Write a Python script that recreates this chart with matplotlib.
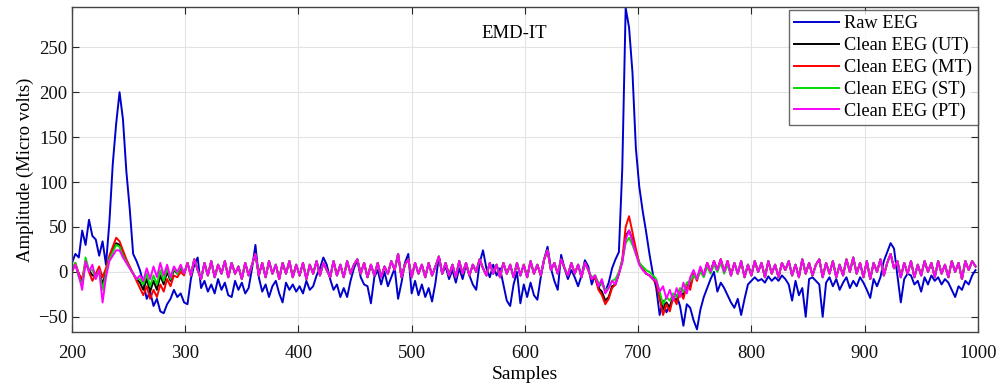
import numpy as np
import matplotlib
matplotlib.use("Agg")
import matplotlib.pyplot as plt

plt.rcParams['font.family'] = ['Liberation Serif', 'DejaVu Serif']

# ---------------- data (every 3 samples, 200..998) ----------------
start_sample = 200
step = 3

raw_eeg = [
    10, 20, 16, 46, 30, 58, 40, 36, 18, 34,              # 200-227
    8, 55, 120, 165, 200, 170, 112, 70, 20, 12,          # 230-257
    2, -12, -30, -22, -38, -30, -44, -46, -36, -30,      # 260-287
    -20, -28, -24, -34, -36, -8, 8, 16, -18, -10,        # 290-317
    -22, -14, -24, -8, -20, -12, -26, -28, -10, -20,     # 320-347
    -12, -24, -18, 4, 30, -6, -22, -14, -28, -16,        # 350-377
    -10, -24, -34, -12, -20, -14, -22, -16, -24, -10,    # 380-407
    -20, -16, -4, 4, 16, 8, -8, -20, -14, -28,           # 410-437
    -18, -28, -10, 4, 13, -6, -14, -16, -35, -6,         # 440-467
    2, -14, 0, -16, -6, 4, -30, -12, 10, 20,             # 470-497
    -24, -10, -26, -14, -28, -18, -33, -12, 17, -2,      # 500-527
    6, -8, 2, -12, 4, -8, 8, -4, -14, -20,               # 530-557
    10, 24, 4, -6, 8, -4, 4, -14, -32, -38,              # 560-587
    -14, 0, -35, -14, -28, -12, -26, -31, -6, 14,        # 590-617
    28, 4, -10, -20, 19, 4, -8, 2, -6, -16,              # 620-647
    -4, 13, 6, -14, -4, -18, -10, -22, -12, 4,           # 650-677
    14, 22, 115, 294, 272, 222, 138, 95, 68, 45,         # 680-707
    20, -2, -18, -48, -32, -45, -38, -28, -26, -38,      # 710-737
    -60, -36, -40, -54, -64, -42, -28, -18, -8, 0,       # 740-767
    -22, -12, -18, -26, -34, -40, -30, -48, -30, -14,    # 770-797
    -10, -6, -10, -8, -12, -5, -10, -6, -10, -4,         # 800-827
    -8, -14, -32, -10, -26, -18, -50, -8, -6, -10,       # 830-857
    -14, -50, -12, -6, -16, -8, -20, -12, -6, -18,       # 860-887
    -10, -16, -6, -12, -20, -29, -8, -16, -6, 12,        # 890-917
    22, 32, 26, -4, -34, -8, -2, -4, -14, -10,           # 920-947
    -22, -6, -14, -4, -10, -6, -14, -8, -12, -20,        # 950-977
    -28, -16, -20, -10, -14, -4, 2,                      # 980-998
]

clean_pt = [
    0, 8, -4, -20, 12, 0, 8, -8, 2, -34,                 # 200-227
    -6, 12, 18, 24, 24, 16, 10, 4, -2, -8,               # 230-257
    -4, -10, 4, -8, 6, -6, 10, -4, 8, -6,                # 260-287
    6, 0, 8, -2, 10, -4, 14, 2, -8, 10,                  # 290-317
    -4, 12, -6, 8, -2, 12, -6, 10, -2, 6,                # 320-347
    -8, 10, -4, 8, 20, -4, 10, -6, 12, -2,               # 350-377
    8, -8, 10, -2, 12, -6, 8, -4, 10, -8,                # 380-407
    8, -2, 12, -4, 10, 2, -6, 12, -4, 8,                 # 410-437
    -6, 12, -2, 8, 14, -2, 10, -6, 8, -4,                # 440-467
    10, -6, 6, -2, 12, 2, 20, -6, 8, 14,                 # 470-497
    -6, 10, -2, 8, -6, 10, -4, 6, 17, -2,                # 500-527
    10, -4, 8, -6, 12, -2, 10, -4, 8, 0,                 # 530-557
    14, 4, -4, 10, -2, 8, -6, 10, -2, 8,                 # 560-587
    -6, 10, -4, 8, -6, 12, -2, 8, -4, 14,                # 590-617
    24, 2, 10, -2, 14, 4, -4, 10, -2, 8,                 # 620-647
    -6, 10, 2, -8, -4, -16, -8, -24, -18, -10,           # 650-677
    -14, -2, 10, 36, 46, 34, 20, 8, 2, -2,               # 680-707
    -4, -8, -10, -22, -16, -30, -20, -32, -18, -28,      # 710-737
    -12, -24, -6, 2, -8, 6, -4, 10, 0, 12,               # 740-767
    2, 14, 0, 12, -4, 10, -2, 12, -6, 8,                 # 770-797
    -4, 12, 0, 10, -6, 12, -2, 8, -6, 10,                # 800-827
    2, 12, -4, 8, -6, 14, -2, 10, -4, 8,                 # 830-857
    14, -6, 10, -2, 12, -6, 8, -4, 14, 0,                # 860-887
    16, -2, 10, -6, 12, -8, 10, 0, 14, -4,               # 890-917
    10, 20, 4, 12, -6, 10, -2, 12, -6, 8,                # 920-947
    -4, 12, 0, 10, -6, 12, -2, 8, -6, 12,                # 950-977
    0, 10, -8, 12, 2, 12, 6,                             # 980-998
]

# segments where the other clean signals differ from PT
seg_a_start = 200   # samples 200..299
seg_b_start = 659   # samples 659..779

ut_seg_a = [2, 8, -4, -12, 10, 2, -4, -4, 2, -14,
            0, 14, 24, 32, 30, 20, 12, 5, -2, -8,
            -12, -20, -8, -22, -10, -20, -4, -14, 0, -10,
            2, -2, 4, -2]
mt_seg_a = [2, 10, -2, -8, 12, 0, -10, -2, 6, -6,
            4, 18, 28, 38, 34, 24, 14, 6, -2, -10,
            -18, -26, -16, -30, -20, -28, -14, -22, -8, -16,
            -4, -6, 0, -4]
st_seg_a = [2, 10, -6, -14, 16, 2, 2, -6, 2, -20,
            -2, 14, 22, 30, 28, 18, 11, 4, -2, -8,
            -8, -14, -2, -16, -4, -14, 2, -10, 4, -8,
            4, -2, 6, -2]

ut_seg_b = [-8, -6, -18, -22, -32, -28, -16, -14, -2, 12,
            40, 46, 36, 22, 10, 4, -2, -4, -8, -12,
            -28, -42, -34, -40, -28, -32, -22, -26, -14, -16,
            -2, -8, 4, -4, 10, 0, 12, 2, 14, 0, 12]
mt_seg_b = [-8, -6, -20, -26, -36, -30, -18, -14, -2, 14,
            50, 62, 44, 26, 10, 4, -2, -4, -8, -12,
            -30, -48, -36, -44, -28, -36, -22, -30, -14, -20,
            -2, -10, 4, -4, 10, 0, 12, 2, 14, 0, 12]
st_seg_b = [-6, -4, -12, -14, -20, -18, -10, -8, 0, 12,
            32, 38, 30, 20, 10, 6, 2, 0, -4, -8,
            -22, -36, -28, -32, -24, -28, -18, -22, -12, -10,
            -4, -8, 0, -6, 6, -2, 8, 0, 10, -2, 8]

series_labels = ['Raw EEG', 'Clean EEG (UT)', 'Clean EEG (MT)',
                 'Clean EEG (ST)', 'Clean EEG (PT)']
series_colors = ['#0000CC', '#000000', '#FF0000', '#00DD00', '#FF00FF']

x_ticks = [200, 300, 400, 500, 600, 700, 800, 900, 1000]
y_ticks = [-50, 0, 50, 100, 150, 200, 250]

# ---------------- build series ----------------
assert len(raw_eeg) == 267, len(raw_eeg)
assert len(clean_pt) == 267, len(clean_pt)
samples = start_sample + step * np.arange(len(raw_eeg))


def with_segments(base, segs):
    out = np.array(base, dtype=float)
    for seg_start, seg in segs:
        i0 = (seg_start - start_sample) // step
        out[i0:i0 + len(seg)] = seg
    return out


clean_ut = with_segments(clean_pt, [(seg_a_start, ut_seg_a), (seg_b_start, ut_seg_b)])
clean_mt = with_segments(clean_pt, [(seg_a_start, mt_seg_a), (seg_b_start, mt_seg_b)])
clean_st = with_segments(clean_pt, [(seg_a_start, st_seg_a), (seg_b_start, st_seg_b)])

all_series = [np.array(raw_eeg, float), clean_ut, clean_mt, clean_st,
              np.array(clean_pt, float)]

# ---------------- plot ----------------
fig = plt.figure(figsize=(10.07, 3.83), dpi=100)
ax = fig.add_axes([0.0715, 0.133, 0.8995, 0.849])

for ys, lab, col in zip(all_series, series_labels, series_colors):
    ax.plot(samples, ys, color=col, lw=1.4, label=lab)

ax.set_xlim(200, 1000)
ax.set_ylim(-67, 295)
ax.set_xticks(x_ticks)
ax.set_yticks(y_ticks)
ax.grid(True, color='#e3e3e3', lw=0.8)
ax.set_axisbelow(True)
ax.tick_params(direction='in', top=True, right=True, length=5,
               labelsize=13.5, colors='#262626', labelcolor='#111111')
ax.tick_params(axis='x', pad=9)
for sp in ax.spines.values():
    sp.set_color('#444444')
    sp.set_linewidth(1.0)

ax.set_xlabel('Samples', fontsize=14, labelpad=3)
ax.set_ylabel('Amplitude (Micro volts)', fontsize=13.5, labelpad=3)
ax.text(591, 265.5, 'EMD-IT', fontsize=13.5, ha='center', va='center')

leg = ax.legend(loc='upper right', bbox_to_anchor=(1.0, 0.991), fontsize=13.2,
                frameon=True, fancybox=False, borderaxespad=0.0,
                handlelength=2.45, handletextpad=0.3,
                labelspacing=0.25, borderpad=0.3)
leg.get_frame().set_edgecolor('#444444')
leg.get_frame().set_linewidth(1.0)

fig.savefig('out.png', dpi=100)
